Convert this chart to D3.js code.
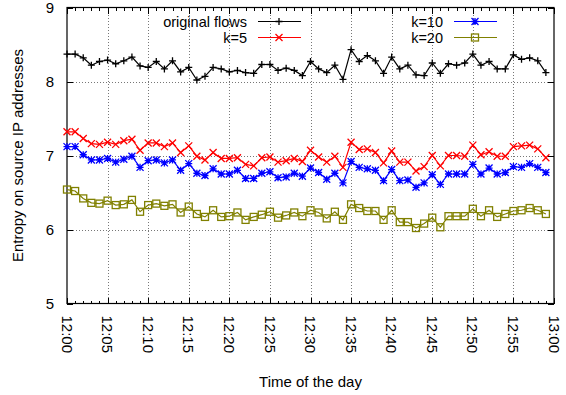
<!DOCTYPE html>
<html>
<head>
<meta charset="utf-8">
<script src="https://cdn.jsdelivr.net/npm/d3@7"></script>
<style>
  body { margin: 0; background: #fff; }
  svg { font-family: "Liberation Sans", Arial, Helvetica, sans-serif; }
</style>
</head>
<body>
<div id="container"></div>
<script>
// data: one sample per minute, 12:00 .. 12:59
const minutes = d3.range(0, 60);

const originalFlows = [
  8.37, 8.37, 8.32, 8.22, 8.27, 8.29, 8.24, 8.28, 8.33, 8.21,
  8.19, 8.27, 8.17, 8.28, 8.13, 8.19, 8.02, 8.07, 8.19, 8.17,
  8.13, 8.15, 8.12, 8.11, 8.23, 8.23, 8.15, 8.18, 8.15, 8.08,
  8.27, 8.17, 8.12, 8.22, 8.03, 8.43, 8.27, 8.35, 8.28, 8.11,
  8.33, 8.17, 8.22, 8.09, 8.08, 8.25, 8.11, 8.24, 8.22, 8.25,
  8.37, 8.22, 8.27, 8.17, 8.17, 8.36, 8.30, 8.32, 8.28, 8.12
];
const k5 = [
  7.32, 7.32, 7.23, 7.16, 7.15, 7.18, 7.15, 7.20, 7.22, 7.07,
  7.17, 7.17, 7.12, 7.17, 7.04, 7.13, 6.99, 6.94, 7.04, 6.96,
  6.96, 6.97, 6.88, 6.86, 6.97, 6.98, 6.91, 6.93, 6.96, 6.92,
  7.07, 6.98, 6.91, 6.99, 6.84, 7.18, 7.08, 7.09, 7.04, 6.90,
  7.06, 6.91, 6.91, 6.79, 6.85, 7.00, 6.86, 7.00, 7.00, 6.99,
  7.14, 7.01, 7.05, 6.99, 6.99, 7.12, 7.13, 7.14, 7.09, 6.97
];
const k10 = [
  7.12, 7.12, 7.01, 6.94, 6.94, 6.96, 6.91, 6.95, 6.99, 6.84,
  6.93, 6.94, 6.90, 6.94, 6.80, 6.89, 6.76, 6.73, 6.82, 6.75,
  6.75, 6.80, 6.69, 6.69, 6.76, 6.78, 6.70, 6.71, 6.76, 6.72,
  6.83, 6.77, 6.68, 6.76, 6.63, 6.92, 6.84, 6.82, 6.80, 6.66,
  6.81, 6.66, 6.67, 6.57, 6.63, 6.74, 6.61, 6.75, 6.75, 6.75,
  6.88, 6.75, 6.83, 6.75, 6.77, 6.85, 6.84, 6.89, 6.84, 6.77
];
const k20 = [
  6.54, 6.52, 6.42, 6.36, 6.35, 6.39, 6.33, 6.34, 6.40, 6.24,
  6.33, 6.35, 6.32, 6.34, 6.23, 6.31, 6.21, 6.17, 6.26, 6.17,
  6.18, 6.23, 6.13, 6.17, 6.20, 6.24, 6.16, 6.19, 6.23, 6.18,
  6.26, 6.23, 6.15, 6.24, 6.13, 6.34, 6.29, 6.25, 6.25, 6.13,
  6.26, 6.10, 6.10, 6.02, 6.08, 6.16, 6.03, 6.18, 6.18, 6.18,
  6.28, 6.18, 6.26, 6.17, 6.21, 6.25, 6.26, 6.29, 6.26, 6.21
];

const seriesNames = ["original flows", "k=5", "k=10", "k=20"];
const seriesColors = ["#000000", "#ff0000", "#0000ff", "#808000"];
const seriesMarkers = ["plus", "cross", "star", "square"];
const yTicks = [5, 6, 7, 8, 9];

/**
 * LAYOUT
 * */
const width = 566, height = 395;
const margin = { top: 7.5, right: 12, bottom: 91.5, left: 67 };
const innerW = width - margin.left - margin.right,
      innerH = height - margin.top - margin.bottom;

const base = new Date(2000, 0, 1, 12, 0);
const toTime = m => new Date(base.getTime() + m * 60000);

const svg = d3.select("#container")
  .append("svg")
  .attr("width", width)
  .attr("height", height);

const x = d3.scaleTime()
  .domain([toTime(0), toTime(60)])
  .range([margin.left, margin.left + innerW]);

const y = d3.scaleLinear()
  .domain([5, 9])
  .range([margin.top + innerH, margin.top]);

const majorTicks = d3.range(0, 61, 5).map(toTime);
const minorTicks = d3.range(0, 61).map(toTime);

// grid
const grid = svg.append("g").attr("stroke", "#555").attr("stroke-width", 0.8)
  .attr("stroke-dasharray", "1,2").attr("shape-rendering", "crispEdges");
grid.selectAll(".gx").data(majorTicks.slice(1, -1)).join("line")
  .attr("x1", d => Math.round(x(d)) + 0.5).attr("x2", d => Math.round(x(d)) + 0.5)
  .attr("y1", y(5)).attr("y2", y(9));
grid.selectAll(".gy").data(yTicks.slice(1, -1)).join("line")
  .attr("x1", x(toTime(0))).attr("x2", x(toTime(60)))
  .attr("y1", d => Math.round(y(d)) + 0.5).attr("y2", d => Math.round(y(d)) + 0.5);

// ticks, inward on all four sides
const ticks = svg.append("g").attr("stroke", "#000").attr("stroke-width", 1)
  .attr("shape-rendering", "crispEdges");
[y(5), y(9)].forEach((yy, i) => {
  const dir = i === 0 ? -1 : 1;
  ticks.append("g").selectAll("line").data(minorTicks).join("line")
    .attr("x1", d => Math.round(x(d)) + 0.5).attr("x2", d => Math.round(x(d)) + 0.5)
    .attr("y1", yy).attr("y2", (d, j) => yy + dir * (j % 5 === 0 ? 6 : 3));
});
[x(toTime(0)), x(toTime(60))].forEach((xx, i) => {
  const dir = i === 0 ? 1 : -1;
  ticks.append("g").selectAll("line").data(yTicks).join("line")
    .attr("x1", xx).attr("x2", xx + dir * 6)
    .attr("y1", d => Math.round(y(d)) + 0.5).attr("y2", d => Math.round(y(d)) + 0.5);
});

// border
svg.append("rect")
  .attr("x", x(toTime(0))).attr("y", y(9))
  .attr("width", x(toTime(60)) - x(toTime(0))).attr("height", y(5) - y(9))
  .attr("fill", "none").attr("stroke", "#000").attr("stroke-width", 1.2);

// tick labels
svg.append("g").selectAll("text").data(yTicks).join("text")
  .attr("x", margin.left - 13).attr("y", d => y(d)).attr("dy", "0.36em")
  .attr("text-anchor", "end").attr("font-size", 15).text(d => d);

const fmt = d3.timeFormat("%H:%M");
svg.append("g").selectAll("text").data(majorTicks).join("text")
  .attr("transform", d => `translate(${x(d)},${y(5) + 12}) rotate(90)`)
  .attr("dy", "0.36em").attr("font-size", 15).text(d => fmt(d));

// axis titles
svg.append("text")
  .attr("transform", `translate(23,${margin.top + innerH / 2}) rotate(-90)`)
  .attr("text-anchor", "middle").attr("font-size", 15)
  .text("Entropy on source IP addresses");
svg.append("text")
  .attr("x", margin.left + innerW / 2).attr("y", 387)
  .attr("text-anchor", "middle").attr("font-size", 15)
  .text("Time of the day");

// markers
function marker(g, type, color) {
  const s = 3.5;
  if (type === "square") {
    g.append("rect").attr("x", -s).attr("y", -s).attr("width", 2 * s).attr("height", 2 * s)
      .attr("fill", "none").attr("stroke", color).attr("stroke-width", 1.3);
    return;
  }
  const p = d3.path();
  if (type === "plus" || type === "star") {
    p.moveTo(-s, 0); p.lineTo(s, 0); p.moveTo(0, -s); p.lineTo(0, s);
  }
  if (type === "cross" || type === "star") {
    p.moveTo(-s, -s); p.lineTo(s, s); p.moveTo(-s, s); p.lineTo(s, -s);
  }
  g.append("path").attr("d", p.toString()).attr("stroke", color)
    .attr("stroke-width", 1.3).attr("fill", "none");
}

const allSeries = [originalFlows, k5, k10, k20];
const line = d3.line().x((d, i) => x(toTime(minutes[i]))).y(d => y(d));

allSeries.forEach((vals, si) => {
  const g = svg.append("g");
  g.append("path").datum(vals).attr("d", line)
    .attr("fill", "none").attr("stroke", seriesColors[si]).attr("stroke-width", 1.2);
  g.selectAll("g").data(vals).join("g")
    .attr("transform", (d, i) => `translate(${x(toTime(minutes[i]))},${y(d)})`)
    .each(function () { marker(d3.select(this), seriesMarkers[si], seriesColors[si]); });
});

// legend (two columns)
const legendPos = [
  { tx: 247, y: 21.5 }, { tx: 247, y: 37.5 },
  { tx: 443, y: 21.5 }, { tx: 443, y: 37.5 }
];
seriesNames.forEach((name, i) => {
  const lp = legendPos[i];
  const g = svg.append("g");
  g.append("text").attr("x", lp.tx).attr("y", lp.y).attr("dy", "0.35em")
    .attr("text-anchor", "end").attr("font-size", 14.5).text(name);
  g.append("line").attr("x1", lp.tx + 11).attr("x2", lp.tx + 54)
    .attr("y1", lp.y).attr("y2", lp.y)
    .attr("stroke", seriesColors[i]).attr("stroke-width", 1.2);
  const mg = g.append("g").attr("transform", `translate(${lp.tx + 32},${lp.y})`);
  marker(mg, seriesMarkers[i], seriesColors[i]);
});
</script>
</body>
</html>
